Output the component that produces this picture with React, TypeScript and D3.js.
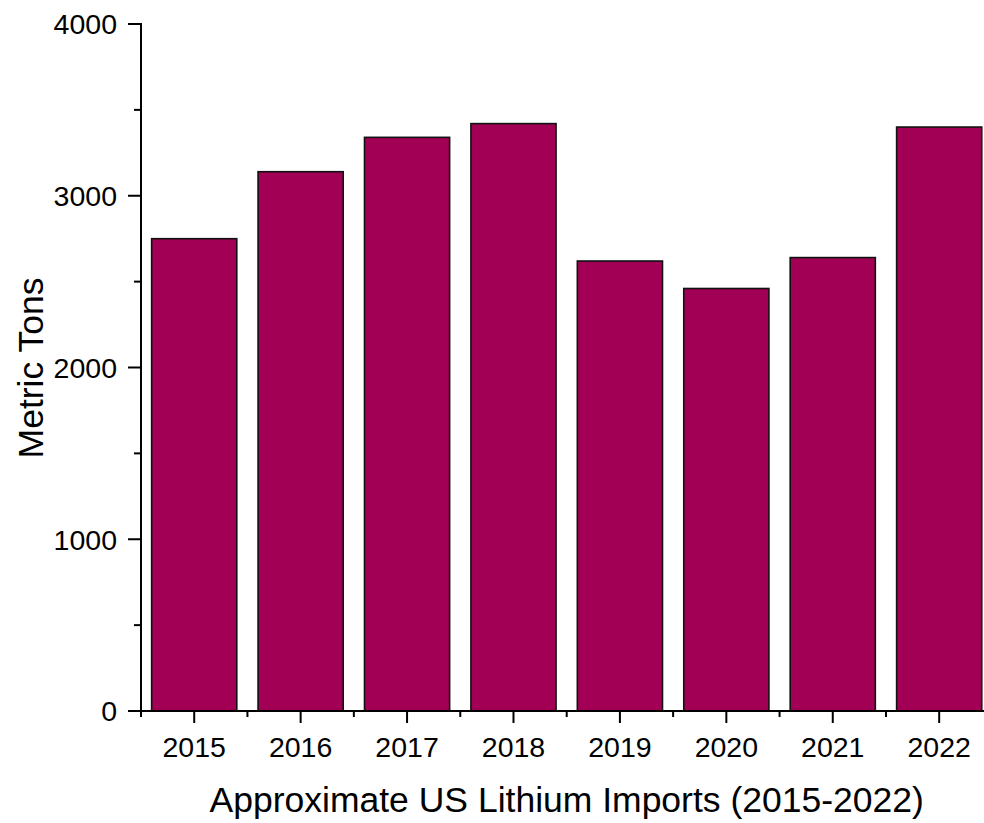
import React from "react";
import * as d3 from "d3";

const years = ["2015", "2016", "2017", "2018", "2019", "2020", "2021", "2022"];
const imports = [2750, 3140, 3340, 3420, 2620, 2460, 2640, 3400];
const yMajorTicks = [0, 1000, 2000, 3000, 4000];
const yMinorTicks = [500, 1500, 2500, 3500];

export default function App() {
  const W = 984, H = 823;
  const left = 141, right = 992.4, top = 24, bottom = 711;
  const x = d3.scaleBand<string>().domain(years).range([left, right]).paddingInner(0.2).paddingOuter(0.1);
  const y = d3.scaleLinear().domain([0, 4000]).range([bottom, top]);
  const step = x.step();
  const font = "'Liberation Sans', Arial, sans-serif";
  return (
    <svg width={W} height={H} style={{ position: "absolute", left: 0, top: 0, background: "#fff" }} fontFamily={font}>
      {years.map((yr, i) => (
        <rect key={yr} x={x(yr)} y={y(imports[i])} width={x.bandwidth()} height={bottom - y(imports[i])}
          fill="#A20055" stroke="#111" strokeWidth={1.6} />
      ))}
      {/* y axis */}
      <line x1={left} x2={left} y1={top - 1} y2={bottom + 1} stroke="#000" strokeWidth={2} />
      {yMajorTicks.map((t) => (
        <g key={t}>
          <line x1={left - 13} x2={left} y1={y(t)} y2={y(t)} stroke="#000" strokeWidth={2} />
          <text x={left - 24} y={y(t)} dy="0.36em" textAnchor="end" fontSize={28.5}>{t}</text>
        </g>
      ))}
      {yMinorTicks.map((t) => (
        <line key={t} x1={left - 7} x2={left} y1={y(t)} y2={y(t)} stroke="#000" strokeWidth={2} />
      ))}
      {/* x axis */}
      <line x1={left - 1} x2={W} y1={bottom} y2={bottom} stroke="#000" strokeWidth={2} />
      {years.map((yr) => {
        const c = (x(yr) as number) + x.bandwidth() / 2;
        return (
          <g key={yr}>
            <line x1={c} x2={c} y1={bottom} y2={bottom + 12} stroke="#000" strokeWidth={2} />
            <line x1={c - step / 2} x2={c - step / 2} y1={bottom} y2={bottom + 6} stroke="#000" strokeWidth={2} />
            <text x={c} y={757} textAnchor="middle" fontSize={28.5}>{yr}</text>
          </g>
        );
      })}
      <text x={(left + right) / 2} y={812} textAnchor="middle" fontSize={35.5}>Approximate US Lithium Imports (2015-2022)</text>
      <text transform={`translate(43,368) rotate(-90)`} textAnchor="middle" fontSize={35.5}>Metric Tons</text>
    </svg>
  );
}
